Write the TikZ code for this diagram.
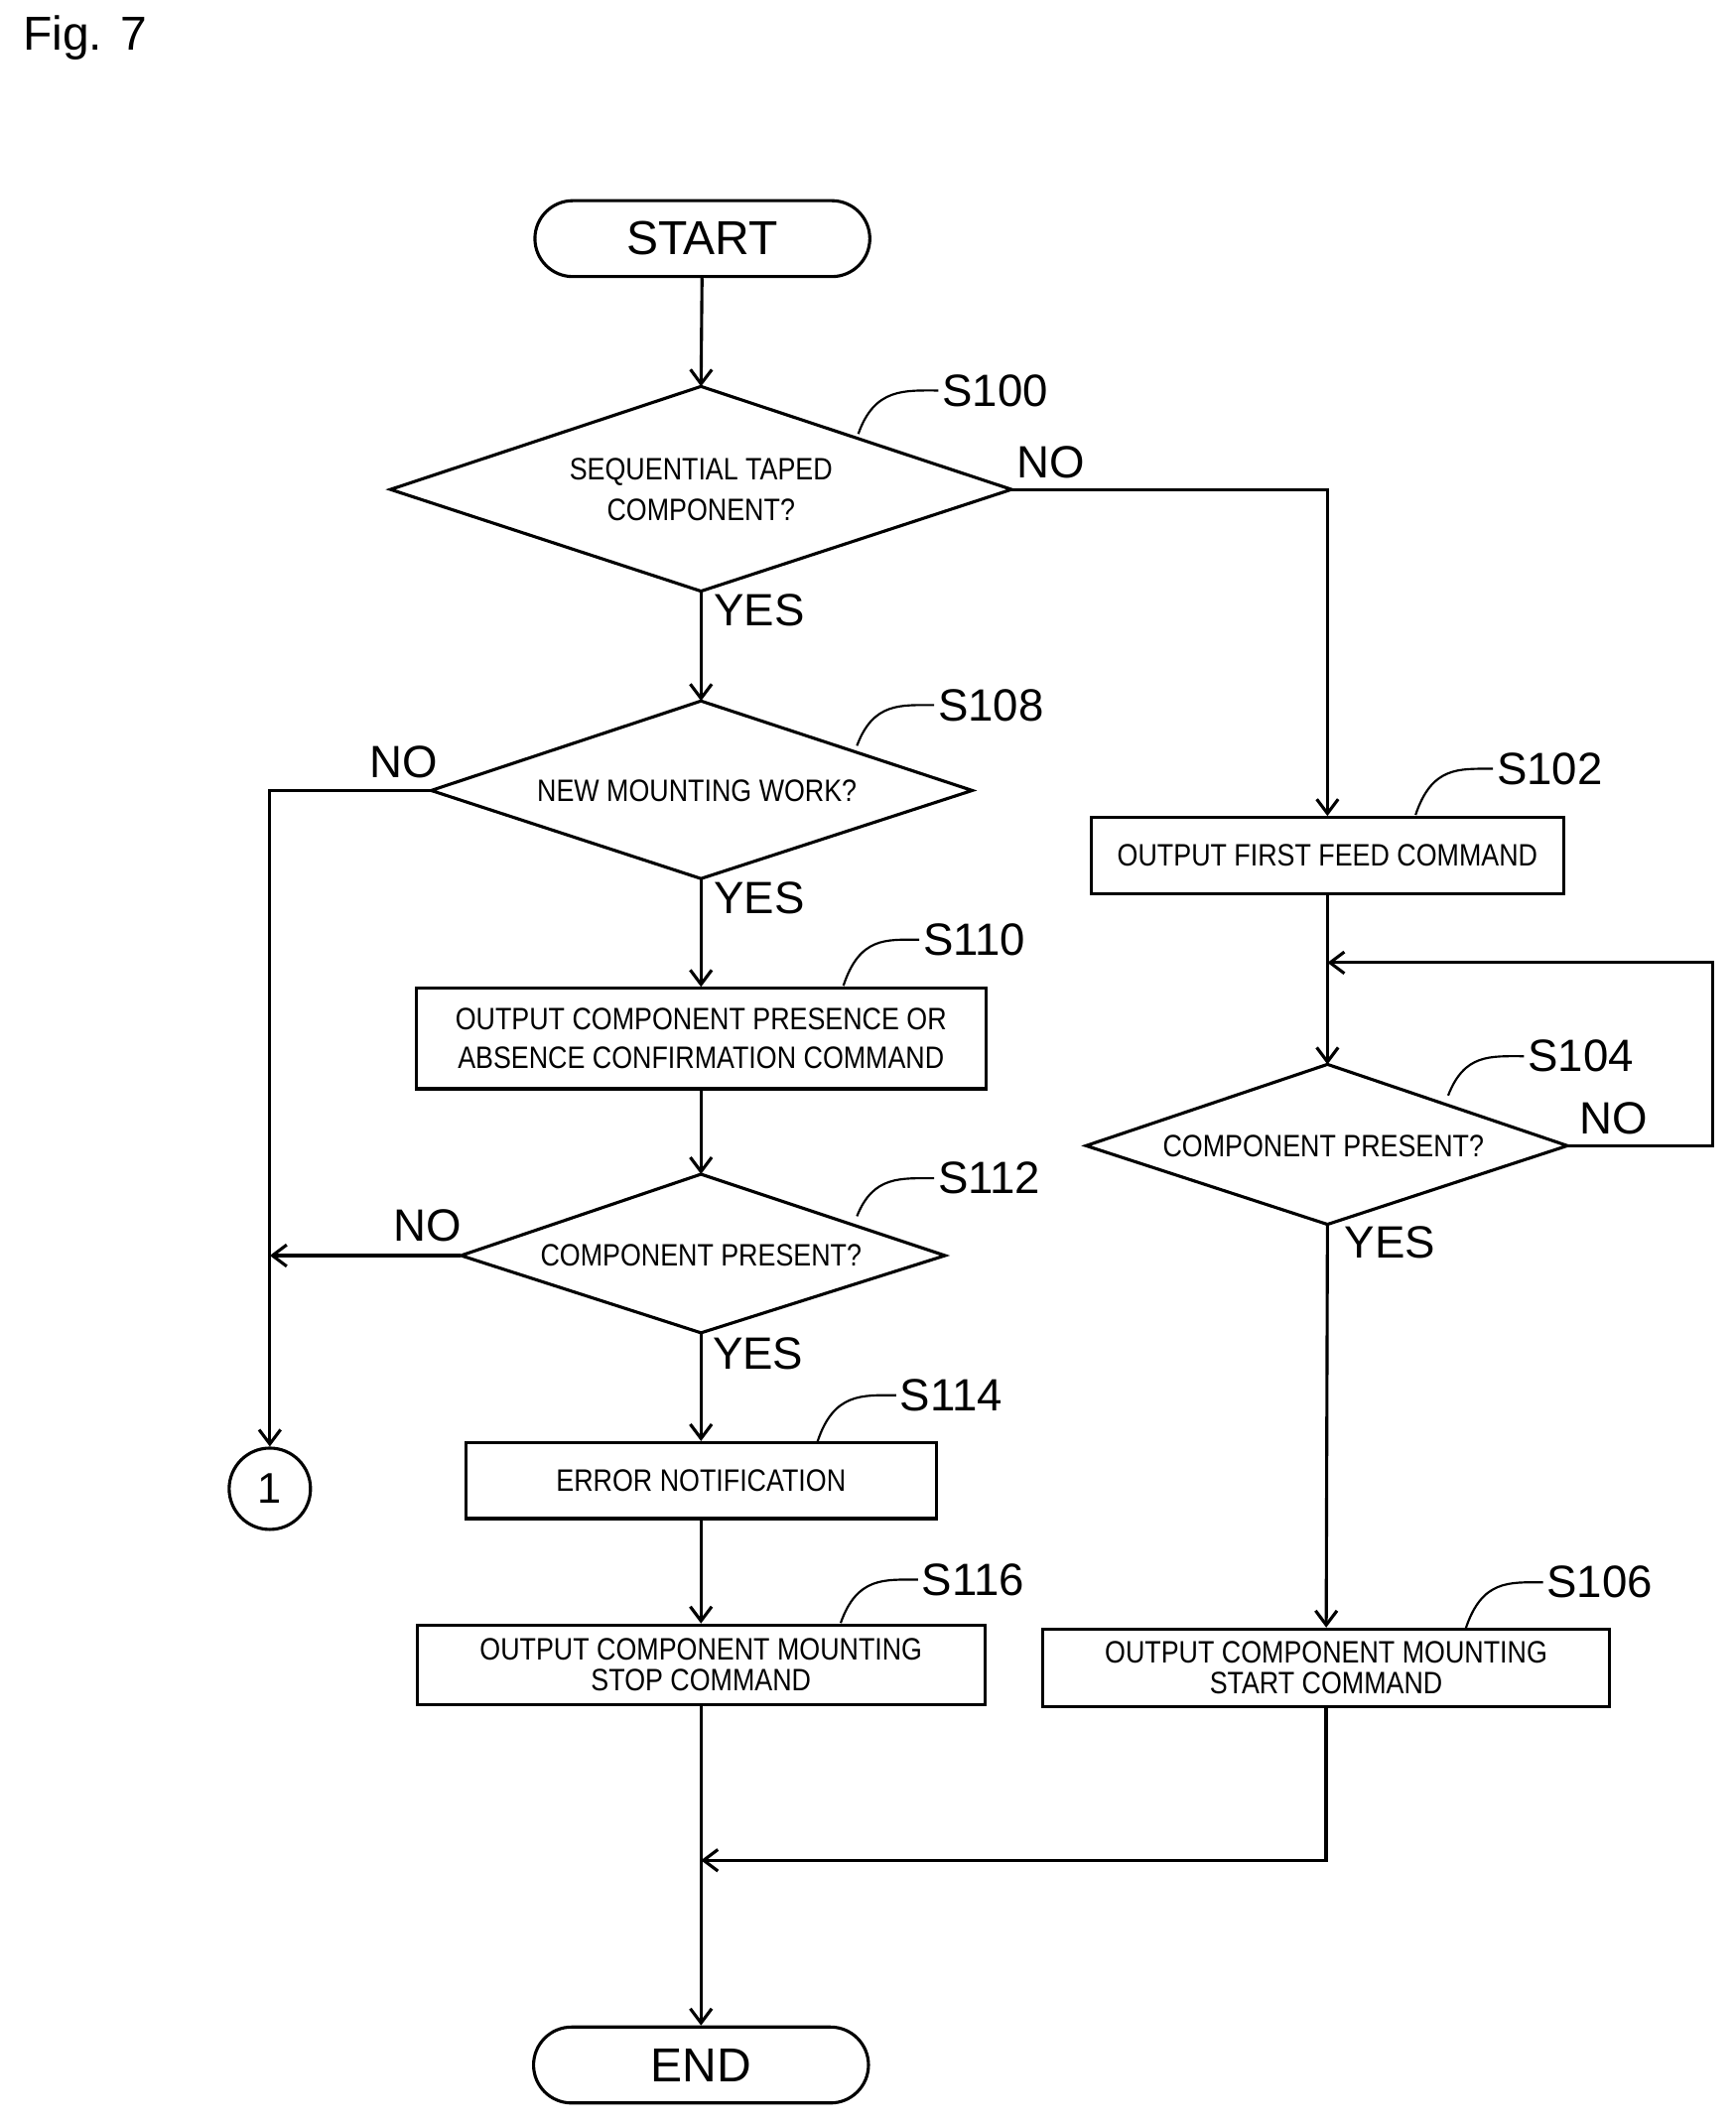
\documentclass[tikz,border=0pt]{standalone}
\usepackage{fontspec}
\setmainfont{Liberation Sans}
\newfontfamily\boxfont[FakeStretch=0.86]{Liberation Sans}
\usetikzlibrary{shapes.geometric,arrows.meta}
\begin{document}
\begin{tikzpicture}[x=0.02cm,y=-0.02cm,
  line width=1.3pt,
  arr/.style={-{Straight Barb[length=6pt,width=9pt]}},
  box/.style={draw,minimum width=#1*0.02cm,inner sep=0pt,align=center,font=\boxfont\fontsize{13}{15}\selectfont},
  lbl/.style={font=\fontsize{19}{22}\selectfont},
  term/.style={draw,rounded corners=28*0.02cm,minimum width=247*0.02cm,minimum height=56*0.02cm,font=\fontsize{20}{24}\selectfont},
  sq/.style={line width=0.9pt}]
\useasboundingbox (0,0) rectangle (1280,1568);
\node[anchor=west,font=\fontsize{20}{24}\selectfont] (fig) at (10,28) {Fig. 7};
\node[term] (start) at (518,176) {START};
\node[term] (end) at (517,1523) {END};
% diamonds
\coordinate (d0c) at (517,361);
\draw (288,361) coordinate (d0l) -- (517,285) coordinate (d0t) -- (746,361) coordinate (d0r) -- (517,436) coordinate (d0b) -- cycle;
\node[font=\boxfont\fontsize{13}{15}\selectfont,align=center] (d0) at (517,361) {SEQUENTIAL TAPED\\[2pt]COMPONENT?};
\draw (318,583) coordinate (d1l) -- (517,517) coordinate (d1t) -- (717,583) coordinate (d1r) -- (517,648) coordinate (d1b) -- cycle;
\node[font=\boxfont\fontsize{13}{15}\selectfont] (d1) at (514,583) {NEW MOUNTING WORK?};
\draw (340,926) coordinate (d2l) -- (517,866) coordinate (d2t) -- (697,926) coordinate (d2r) -- (517,983) coordinate (d2b) -- cycle;
\node[font=\boxfont\fontsize{13}{15}\selectfont] (d2) at (517,926) {COMPONENT PRESENT?};
\draw (801,845) coordinate (d3l) -- (979,785) coordinate (d3t) -- (1156,845) coordinate (d3r) -- (979,903) coordinate (d3b) -- cycle;
\node[font=\boxfont\fontsize{13}{15}\selectfont] (d3) at (976,845) {COMPONENT PRESENT?};
% boxes
\node[box=420,minimum height=74*0.02cm] (s110) at (517,766) {OUTPUT COMPONENT PRESENCE OR\\[1pt]ABSENCE CONFIRMATION COMMAND};
\node[box=347,minimum height=56*0.02cm] (s114) at (517,1092) {ERROR NOTIFICATION};
\node[box=419,minimum height=59*0.02cm] (s116) at (517,1228) {OUTPUT COMPONENT MOUNTING\\[-2pt]STOP COMMAND};
\node[box=348,minimum height=56*0.02cm] (s102) at (979,631) {OUTPUT FIRST FEED COMMAND};
\node[box=418,minimum height=57*0.02cm] (s106) at (978,1230) {OUTPUT COMPONENT MOUNTING\\[-2pt]START COMMAND};
\node[draw,circle,minimum size=60*0.02cm,inner sep=0pt,font=\fontsize{18}{20}\selectfont] (c1) at (199,1098) {1};
% connectors
\draw[arr] (start) -- (d0t);
\draw[arr] (d0b) -- (d1t);
\draw[arr] (d1b) -- (s110);
\draw[arr] (s110) -- (d2t);
\draw[arr] (d2b) -- (s114);
\draw[arr] (s114) -- (s116);
\draw[arr] (s116) -- (end);
\draw[arr] (d0r) -| (s102);
\draw[arr] (s102) -- (d3t);
\coordinate (lp) at (979,710);
\draw[arr] (d3r) -- (1263,845) -- (1263,710) -- (lp);
\draw[arr] (d3b) -- (s106);
\coordinate (mj) at (517,1372);
\draw[arr] (s106.south) |- (mj);
\draw[arr] (d1l) -- (199,583) -- (c1);
\coordinate (jn) at (199,926);
\draw[arr] (d2l) -- (jn);
% yes/no
\node[lbl] (y0) at (560,450) {YES};
\node[lbl] (n0) at (775,341) {NO};
\node[lbl] (y1) at (560,662) {YES};
\node[lbl] (n1) at (298,562) {NO};
\node[lbl] (y2) at (559,998) {YES};
\node[lbl] (n2) at (315,904) {NO};
\node[lbl] (y3) at (1025,916) {YES};
\node[lbl] (n3) at (1190,825) {NO};
% step labels
\foreach \n/\x/\y/\sx/\sy in {S100/692/288/633/320, S108/689/520/632/550, S110/678/693/622/727, S112/689/869/632/897, S114/661/1029/603/1063, S116/677/1165/620/1197, S102/1101/567/1044/601, S104/1124/779/1068/808, S106/1138/1167/1081/1201}{
  \node[lbl,anchor=west,inner sep=1pt] (\n) at (\x,\y) {\n};
  \draw[sq] (\sx,\sy) .. controls (\sx+12,\y-2) and (\x-25,\y) .. (\n.west);
}
\end{tikzpicture}
\end{document}
